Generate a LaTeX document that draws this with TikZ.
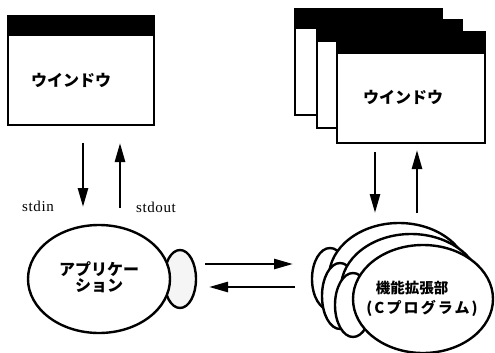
\documentclass[tikz,border=0pt]{standalone}
\usepackage{fontspec}
\setmainfont{Liberation Serif}
\newfontfamily\jp{Noto Sans CJK JP}
\usetikzlibrary{shapes.geometric,arrows.meta,calc}
\begin{document}
\begin{tikzpicture}[x=1pt,y=-1pt,
  win/.style={draw,line width=2.6pt,fill=white,inner sep=0pt},
  blob/.style={ellipse,draw,line width=2.4pt,fill=white,inner sep=0pt},
  bumpy/.style={ellipse,draw,line width=2.4pt,fill=white,inner sep=0pt},
  flow/.style={line width=2.6pt,-{Triangle[length=19pt,width=10pt]}},
  jptext/.style={font=\jp\bfseries\fontsize{16}{18}\selectfont},
  jpbold/.style={font=\jp\bfseries\fontsize{14.5}{16}\selectfont},
  lbl/.style={font=\fontsize{15}{16}\selectfont\addfontfeature{LetterSpace=4}}
]
\useasboundingbox (0,0) rectangle (495,353);

% left window
\node[win,minimum width=146pt,minimum height=109pt] (lw) at (81,70.5) {};
\fill (lw.north west) rectangle ($(lw.north east)+(0,21)$);
\node[jptext] (lwt) at (71,80) {ウインドウ};

% right windows
\node[win,minimum width=147pt,minimum height=106pt] (rw1) at (368.5,62) {};
\fill (rw1.north west) rectangle ($(rw1.north east)+(0,21)$);
\node[win,minimum width=145pt,minimum height=108pt] (rw2) at (389.5,74) {};
\fill (rw2.north west) rectangle ($(rw2.north east)+(0,23)$);
\node[win,minimum width=148pt,minimum height=111pt] (rw3) at (411,87.5) {};
\fill (rw3.north west) rectangle ($(rw3.north east)+(0,23)$);
\node[jptext] (rwt) at (403,97) {ウインドウ};

% left application
\node[bumpy,fill=black!4,minimum width=32pt,minimum height=58pt] (ab) at (180,279) {};
\node[blob,minimum width=142pt,minimum height=108pt] (app) at (99,279) {};
\node[jptext,align=center] (appt) at (99,277) {アプリケー\\[-2pt]ション};

% right cluster
\node[bumpy,minimum width=36pt,minimum height=62pt] (b1) at (330,279) {};
\node[blob,minimum width=140pt,minimum height=108pt] (e1) at (399,277) {};
\node[bumpy,minimum width=36pt,minimum height=66pt] (b2) at (340,296) {};
\node[blob,minimum width=140pt,minimum height=108pt] (e2) at (411,288) {};
\node[bumpy,minimum width=36pt,minimum height=64pt] (b3) at (353,305) {};
\node[blob,minimum width=140pt,minimum height=108pt] (ext) at (423,299) {};
\node[jpbold] (extt1) at (412,288) {機能拡張部};
\node[jpbold,font=\jp\bfseries\fontsize{15}{16}\selectfont\addfontfeature{LetterSpace=14}] (extt2) at (422,308) {(Cプログラム)};

% arrows left
\coordinate (ldt) at (83,143); \coordinate (ldb) at (83,207);
\coordinate (lut) at (120,143); \coordinate (lub) at (120,208);
\draw[flow] (ldt) -- (ldb);
\draw[flow] (lub) -- (lut);
\node[lbl] (stdin) at (38,206) {stdin};
\node[lbl] (stdout) at (156,207) {stdout};

% arrows middle
\coordinate (mtl) at (205,264); \coordinate (mtr) at (293,264);
\coordinate (mbl) at (209,287); \coordinate (mbr) at (295,287);
\draw[flow] (mtl) -- (mtr);
\draw[flow] (mbr) -- (mbl);

% arrows right
\coordinate (rdt) at (375,152); \coordinate (rdb) at (375,213);
\coordinate (rut) at (417,150); \coordinate (rub) at (417,213);
\draw[flow] (rdt) -- (rdb);
\draw[flow] (rub) -- (rut);
\end{tikzpicture}
\end{document}
